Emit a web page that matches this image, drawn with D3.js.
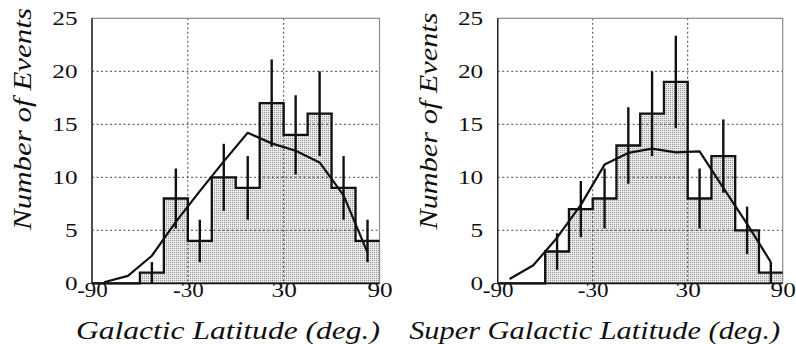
<!DOCTYPE html>
<html>
<head>
<meta charset="utf-8">
<script src="https://cdn.jsdelivr.net/npm/d3@7"></script>
<style>
  body { margin: 0; background: #fff; }
  svg { display: block; }
</style>
</head>
<body>
<div id="chart"></div>
<script>
// bin edges (deg) shared by both panels
var binEdges = [-90, -75, -60, -45, -30, -15, 0, 15, 30, 45, 60, 75, 90];
var binCenters = [-82.5, -67.5, -52.5, -37.5, -22.5, -7.5, 7.5, 22.5, 37.5, 52.5, 67.5, 82.5];
var xTicks = [-90, -30, 30, 90];
var yTicks = [0, 5, 10, 15, 20, 25];

// galactic latitude
var galCounts = [0, 0, 1, 8, 4, 10, 9, 17, 14, 16, 9, 4];
var galErrors = [0, 0, 1, 2.83, 2, 3.16, 3, 4.12, 3.74, 4, 3, 2];
var galExpected = [0.1, 0.7, 2.6, 5.8, 8.7, 11.5, 14.2, 13.2, 12.5, 11.4, 8.3, 2.9];

// super galactic latitude
var sgCounts = [0, 0, 3, 7, 8, 13, 16, 19, 8, 12, 5, 1];
var sgErrors = [0, 0, 1.73, 2.65, 2.83, 3.61, 4, 4.36, 2.83, 3.46, 2.24, 1];
var sgExpected = [0.4, 1.7, 4.3, 7.4, 11.2, 12.3, 12.7, 12.35, 12.45, 9.0, 5.6, 2.0];

var W = 796, H = 344;
var FONT = "'Liberation Serif', 'Times New Roman', Times, serif";

var svg = d3.select("#chart").append("svg")
  .attr("width", W)
  .attr("height", H);

// stipple fill like the printed halftone
var pat = svg.append("defs").append("pattern")
  .attr("id", "dots")
  .attr("width", 2).attr("height", 2)
  .attr("patternUnits", "userSpaceOnUse");
pat.append("rect").attr("width", 2).attr("height", 2).attr("fill", "#e8e8e8");
pat.append("rect").attr("width", 1).attr("height", 1).attr("fill", "#959595");

var panels = [
  {left: 92, right: 379.5, counts: galCounts, errors: galErrors, expected: galExpected,
   xtitle: "Galactic Latitude (deg.)", xtitleX: 228, xtitleLen: 304,
   ytitleX: 31, ytitleY: 119, ytitleLen: 222},
  {left: 497.7, right: 782.7, counts: sgCounts, errors: sgErrors, expected: sgExpected,
   xtitle: "Super Galactic Latitude (deg.)", xtitleX: 594.7, xtitleLen: 371,
   ytitleX: 437, ytitleY: 121, ytitleLen: 217}
];

var plotTop = 18.3, plotBottom = 283.3;

function labelLen(s) {
  var n = 0;
  for (var i = 0; i < s.length; i++) n += (s[i] == "-") ? 5.5 : 12.6;
  return n;
}

panels.forEach(function(p) {
  var x = d3.scaleLinear().domain([-90, 90]).range([p.left, p.right]);
  var y = d3.scaleLinear().domain([0, 25]).range([plotBottom, plotTop]);
  var g = svg.append("g");

  // histogram area
  var steps = binEdges.map(function(e, i) {
    return [e, p.counts[Math.min(i, p.counts.length - 1)]];
  });
  g.append("path")
    .datum(steps)
    .attr("d", d3.area().curve(d3.curveStepAfter)
      .x(function(d) { return x(d[0]); })
      .y0(y(0))
      .y1(function(d) { return y(d[1]); }))
    .attr("fill", "url(#dots)");

  // dotted grid
  g.selectAll(".gy").data([5, 10, 15, 20]).enter().append("line")
    .attr("x1", p.left).attr("x2", p.right)
    .attr("y1", function(d) { return y(d); })
    .attr("y2", function(d) { return y(d); })
    .attr("stroke", "#333").attr("stroke-width", 0.9)
    .attr("stroke-dasharray", "2,2.5");
  g.selectAll(".gx").data([-30, 30]).enter().append("line")
    .attr("x1", function(d) { return x(d); })
    .attr("x2", function(d) { return x(d); })
    .attr("y1", plotTop).attr("y2", plotBottom)
    .attr("stroke", "#333").attr("stroke-width", 0.9)
    .attr("stroke-dasharray", "2,2.5");

  // frame
  g.append("rect")
    .attr("x", p.left).attr("y", plotTop)
    .attr("width", p.right - p.left).attr("height", plotBottom - plotTop)
    .attr("fill", "none").attr("stroke", "#8a8a8a").attr("stroke-width", 1.2);
  g.append("line")
    .attr("x1", p.left).attr("x2", p.left).attr("y1", plotTop).attr("y2", plotBottom)
    .attr("stroke", "#222").attr("stroke-width", 1.4);
  g.append("line")
    .attr("x1", p.left).attr("x2", p.right).attr("y1", plotBottom).attr("y2", plotBottom)
    .attr("stroke", "#111").attr("stroke-width", 1.8);

  // histogram outline
  g.append("path")
    .datum(steps)
    .attr("d", d3.line().curve(d3.curveStepAfter)
      .x(function(d) { return x(d[0]); })
      .y(function(d) { return y(d[1]); }))
    .attr("fill", "none").attr("stroke", "#111").attr("stroke-width", 2.3);

  // error bars
  var eb = binCenters.map(function(c, i) {
    return {c: c, n: p.counts[i], e: p.errors[i]};
  }).filter(function(d) { return d.n > 0; });
  g.selectAll(".err").data(eb).enter().append("line")
    .attr("x1", function(d) { return x(d.c); })
    .attr("x2", function(d) { return x(d.c); })
    .attr("y1", function(d) { return y(d.n - d.e); })
    .attr("y2", function(d) { return y(d.n + d.e); })
    .attr("stroke", "#111").attr("stroke-width", 2.4);

  // expected curve
  g.append("path")
    .datum(binCenters.map(function(c, i) { return [c, p.expected[i]]; }))
    .attr("d", d3.line()
      .x(function(d) { return x(d[0]); })
      .y(function(d) { return y(d[1]); }))
    .attr("fill", "none").attr("stroke", "#111").attr("stroke-width", 2.2)
    .attr("stroke-linejoin", "round");

  // axes (labels only)
  var ax = g.append("g")
    .attr("transform", "translate(0," + plotBottom + ")")
    .call(d3.axisBottom(x).tickValues(xTicks).tickSize(0).tickPadding(0)
      .tickFormat(function(d) { return String(d); }));
  ax.select(".domain").remove();
  ax.selectAll("text")
    .attr("y", 14)
    .attr("dy", 0)
    .style("font-family", FONT)
    .style("font-size", "21px")
    .attr("fill", "#111")
    .attr("textLength", function(d) { return labelLen(String(d)); })
    .attr("lengthAdjust", "spacingAndGlyphs");

  var ay = g.append("g")
    .attr("transform", "translate(" + (p.left - 14.5) + ",0)")
    .call(d3.axisLeft(y).tickValues(yTicks).tickSize(0).tickPadding(0)
      .tickFormat(function(d) { return String(d); }));
  ay.select(".domain").remove();
  ay.selectAll("text")
    .attr("x", 0)
    .attr("dy", "6px")
    .style("font-family", FONT)
    .style("font-size", "18px")
    .attr("fill", "#111")
    .attr("textLength", function(d) { return labelLen(String(d)); })
    .attr("lengthAdjust", "spacingAndGlyphs");

  // titles
  g.append("text")
    .attr("x", p.xtitleX).attr("y", 339)
    .attr("text-anchor", "middle")
    .style("font-family", FONT)
    .style("font-size", "25px").style("font-style", "italic")
    .attr("fill", "#111")
    .attr("textLength", p.xtitleLen).attr("lengthAdjust", "spacingAndGlyphs")
    .text(p.xtitle);

  g.append("text")
    .attr("transform", "translate(" + p.ytitleX + "," + p.ytitleY + ") rotate(-90)")
    .attr("text-anchor", "middle")
    .style("font-family", FONT)
    .style("font-size", "25px").style("font-style", "italic")
    .attr("fill", "#111")
    .attr("textLength", p.ytitleLen).attr("lengthAdjust", "spacingAndGlyphs")
    .text("Number of Events");
});
</script>
</body>
</html>
